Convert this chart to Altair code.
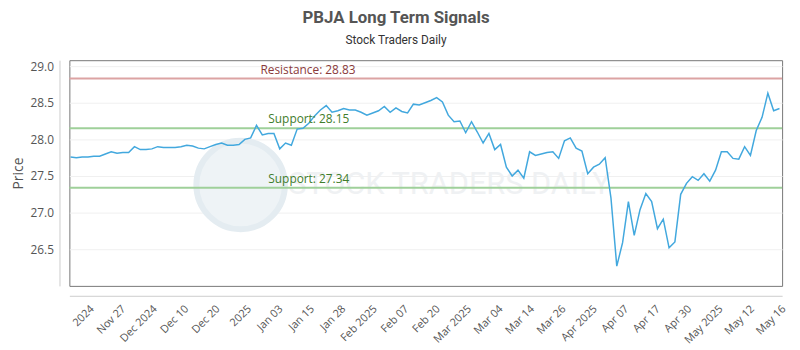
import json
import altair as alt
import pandas as pd

# ---- data ----
prices = [
    27.76, 27.75, 27.76, 27.76, 27.77, 27.77, 27.80, 27.83, 27.81, 27.82,
    27.82, 27.90, 27.86, 27.86, 27.87, 27.90, 27.89, 27.89, 27.89, 27.90,
    27.92, 27.91, 27.88, 27.87, 27.90, 27.93, 27.95, 27.92, 27.92, 27.93,
    28.00, 28.02, 28.19, 28.06, 28.08, 28.08, 27.87, 27.95, 27.92, 28.14,
    28.15, 28.22, 28.32, 28.40, 28.46, 28.37, 28.39, 28.42, 28.40, 28.40,
    28.37, 28.33, 28.36, 28.39, 28.45, 28.37, 28.43, 28.38, 28.36, 28.48,
    28.47, 28.50, 28.53, 28.57, 28.51, 28.33, 28.24, 28.25, 28.09, 28.24,
    28.10, 27.95, 28.08, 27.86, 27.93, 27.62, 27.50, 27.58, 27.47, 27.83,
    27.78, 27.80, 27.82, 27.83, 27.74, 27.98, 28.02, 27.88, 27.84, 27.53,
    27.62, 27.66, 27.75, 27.20, 26.27, 26.59, 27.15, 26.69, 27.04, 27.26,
    27.15, 26.78, 26.91, 26.52, 26.60, 27.25, 27.40, 27.49, 27.44, 27.53,
    27.43, 27.58, 27.83, 27.83, 27.74, 27.73, 27.90, 27.78, 28.12, 28.30,
    28.63, 28.39, 28.42,
]

tick_labels = ["2024", "Nov 27", "Dec 2024", "Dec 10", "Dec 20", "2025", "Jan 03",
               "Jan 15", "Jan 28", "Feb 2025", "Feb 07", "Feb 20", "Mar 2025",
               "Mar 04", "Mar 14", "Mar 26", "Apr 2025", "Apr 07", "Apr 17",
               "Apr 30", "May 2025", "May 12", "May 16"]

level_names = ["Resistance", "Support", "Support"]
level_values = [28.83, 28.15, 27.34]
y_ticks = [26.5, 27.0, 27.5, 28.0, 28.5, 29.0]

# ---- tables ----
df = pd.DataFrame({"idx": list(range(len(prices))), "price": prices})
lv = pd.DataFrame({
    "name": level_names,
    "value": level_values,
    "label": [f"{n}: {v:.2f}" for n, v in zip(level_names, level_values)],
    "kind": ["r", "s", "s"],
})

tick_start, tick_step = 3.0, 5.41
tick_vals = [round(tick_start + k * tick_step, 3) for k in range(len(tick_labels))]
label_expr = f"{json.dumps(tick_labels)}[round((datum.value - {tick_start})/{tick_step})]"

FONT = "Open Sans"

x_enc = alt.X(
    "idx:Q",
    scale=alt.Scale(domain=[-0.2, 122.45], nice=False, zero=False),
    axis=alt.Axis(
        values=tick_vals, labelExpr=label_expr, labelAngle=-45, title=None,
        grid=False, ticks=False, offset=10, domainColor="#cccccc",
        labelColor="#555555", labelFontSize=11, labelFont=FONT, labelPadding=7,
        labelOverlap=False, labelFlush=False,
    ),
)
y_scale = alt.Scale(domain=[26.0, 29.08], nice=False, zero=False)
y_enc = alt.Y(
    "price:Q", scale=y_scale,
    axis=alt.Axis(
        values=y_ticks, format=".1f", title="Price", grid=True, gridColor="#f0f0f0",
        ticks=False, offset=10, domainColor="#cccccc", labelColor="#555555",
        labelFontSize=12, labelFont=FONT, labelPadding=6, titleFont=FONT,
        titleFontSize=14, titleFontWeight="normal", titleColor="#555555",
        titlePadding=5,
    ),
)

base = alt.Chart(df)

# watermark
wm_circle = base.mark_point(
    shape="circle", filled=True, color="#eef3f6", size=8000, opacity=1,
    stroke="#e4ecf1", strokeWidth=6,
).encode(x=alt.value(173), y=alt.value(126)).transform_filter("datum.idx == 0")
wm_text = base.mark_text(
    text="STOCK TRADERS DAILY", font="Roboto", fontSize=31, color="#eff1f3",
    align="left", baseline="middle",
).encode(x=alt.value(221), y=alt.value(126)).transform_filter("datum.idx == 0")

line = base.mark_line(color="#42a8de", strokeWidth=1.5).encode(x=x_enc, y=y_enc)

rules = alt.Chart(lv).mark_rule(strokeWidth=2).encode(
    y=alt.Y("value:Q", scale=y_scale),
    color=alt.Color("kind:N", scale=alt.Scale(domain=["r", "s"], range=["#dca3a3", "#9fd09a"]), legend=None),
)
text_r = alt.Chart(lv).transform_filter("datum.kind == 'r'").mark_text(
    align="left", baseline="bottom", dy=-2, fontSize=12, font=FONT, color="#8a3a3a",
).encode(x=alt.value(193), y=alt.Y("value:Q", scale=y_scale), text="label:N")
text_s = alt.Chart(lv).transform_filter("datum.kind == 's'").mark_text(
    align="left", baseline="bottom", dy=-2, fontSize=12, font=FONT, color="#3f7d2c",
).encode(x=alt.value(201), y=alt.Y("value:Q", scale=y_scale), text="label:N")

chart = alt.layer(wm_circle, wm_text, rules, line, text_r, text_s).properties(
    width=720, height=228,
    padding={"left": 62, "top": 51, "right": 10, "bottom": 60},
    autosize=alt.AutoSizeParams(type="none"),
    title=alt.TitleParams(
        "PBJA Long Term Signals", subtitle="Stock Traders Daily", anchor="middle",
        dx=-30, fontSize=17, font="Roboto", fontWeight="bold", color="#555555",
        subtitleFont="Roboto", subtitleFontSize=12, subtitleColor="#333333",
        subtitlePadding=8, offset=13,
    ),
).configure_view(stroke="#777777", strokeWidth=1)

chart.save("out.html", embed_options={"renderer": "svg", "actions": False})
